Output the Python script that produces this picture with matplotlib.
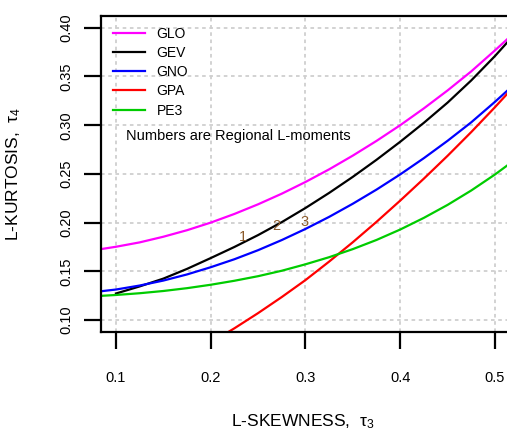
import numpy as np
import matplotlib
matplotlib.use("Agg")
import matplotlib.pyplot as plt

plt.rcParams['font.family'] = ['Liberation Sans', 'DejaVu Sans']

# L-moment ratio curves
tau3 = [0.075, 0.100, 0.125, 0.150, 0.175, 0.200, 0.225, 0.250, 0.275, 0.300,
        0.325, 0.350, 0.375, 0.400, 0.425, 0.450, 0.475, 0.500, 0.525, 0.550]

glo = [0.1714, 0.1752, 0.1797, 0.1855, 0.1922, 0.2000, 0.2089, 0.2188, 0.2297, 0.2417,
       0.2547, 0.2688, 0.2839, 0.3000, 0.3173, 0.3357, 0.3553, 0.3768, 0.3990, 0.4210]

gev_t3 = tau3[1:]
gev = [0.1272, 0.1345, 0.1425, 0.1525, 0.1636, 0.1750, 0.1872, 0.2005, 0.2150,
       0.2305, 0.2470, 0.2645, 0.2830, 0.3025, 0.3232, 0.3460, 0.3710, 0.3980, 0.4250]

gno = [0.1285, 0.1313, 0.1354, 0.1405, 0.1468, 0.1542, 0.1624, 0.1717, 0.1821, 0.1935,
       0.2059, 0.2194, 0.2339, 0.2495, 0.2662, 0.2840, 0.3030, 0.3240, 0.3460, 0.3680]

gpa_t3 = tau3[5:]
gpa = [0.0769, 0.0915, 0.1071, 0.1236, 0.1410, 0.1600, 0.1799, 0.2008, 0.2226, 0.2452,
       0.2686, 0.2930, 0.3185, 0.3450, 0.3720]

pe3 = [0.1243, 0.1257, 0.1275, 0.1298, 0.1327, 0.1362, 0.1403, 0.1450, 0.1506, 0.1572,
       0.1645, 0.1728, 0.1822, 0.1929, 0.2049, 0.2182, 0.2330, 0.2494, 0.2673, 0.2869]

# regional L-moments (sites 1, 2, 3)
reg_labels = ['1', '2', '3']
reg_t3 = [0.2345, 0.2695, 0.2990]
reg_t4 = [0.1855, 0.1965, 0.2010]

xticks = [0.1, 0.2, 0.3, 0.4, 0.5]
yticks = [0.10, 0.15, 0.20, 0.25, 0.30, 0.35, 0.40]

fig = plt.figure(figsize=(5.07, 4.32), dpi=100)
ax = fig.add_axes([101/507, 1-332/432, 408/507, 316/432])

ax.set_xlim(0.0842, 0.5148)
ax.set_ylim(0.0877, 0.4121)

ax.set_xticks(xticks)
ax.set_yticks(yticks)
ax.set_xticklabels([f'{v:.1f}' for v in xticks])
ax.set_yticklabels([f'{v:.2f}' for v in yticks], rotation=90, va='center')
ax.grid(True, color='#cfcfcf', linestyle=(0, (2, 2)), linewidth=1.3)
ax.set_axisbelow(True)

lw = 1.6
ax.plot(tau3, glo, color='#ff00ff', lw=lw, label='GLO')
ax.plot(gev_t3, gev, color='black', lw=lw, label='GEV')
ax.plot(tau3, gno, color='#0000ff', lw=lw, label='GNO')
ax.plot(gpa_t3, gpa, color='#ff0000', lw=lw, label='GPA')
ax.plot(tau3, pe3, color='#00cc00', lw=lw, label='PE3')

for lab, x, y in zip(reg_labels, reg_t3, reg_t4):
    ax.text(x, y, lab, color='#8b5a2b', fontsize=10.5, ha='center', va='center')

ax.text((126-101)/408, (332-136)/316, 'Numbers are Regional L-moments',
        transform=ax.transAxes, fontsize=10.5, ha='left', va='center')

ax.legend(loc='upper left', bbox_to_anchor=((112.7-101)/408, (332-26.5)/316),
          frameon=False, fontsize=10, handlelength=2.3, handletextpad=0.85,
          labelspacing=0.38, borderpad=0, borderaxespad=0)

for s in ['left', 'bottom', 'top']:
    ax.spines[s].set_linewidth(1.6)
ax.spines['right'].set_visible(False)
ax.tick_params(axis='both', direction='out', length=12, width=1.6, labelsize=10.5)
ax.tick_params(axis='x', pad=16)
ax.tick_params(axis='y', pad=8)

ax.set_xlabel(r'L-SKEWNESS,  $\mathregular{\tau_3}$', fontsize=12.5)
ax.set_ylabel(r'L-KURTOSIS,  $\mathregular{\tau_4}$', fontsize=12.5)
ax.xaxis.set_label_coords(0.495, (332-412)/316)
ax.yaxis.set_label_coords((23-101)/408, 0.5)

fig.savefig('out.png', dpi=100)
